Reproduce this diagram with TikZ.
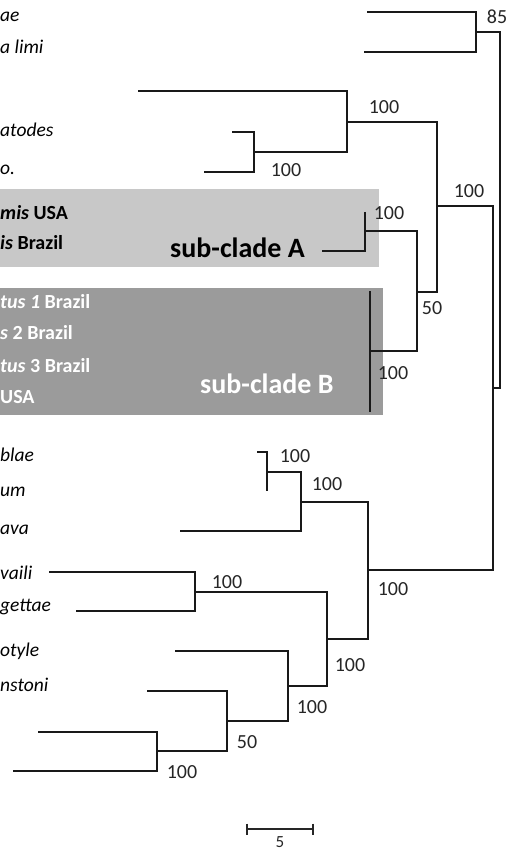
\documentclass[tikz,border=0pt]{standalone}
\usepackage{fontspec}
\setmainfont{Carlito}
\usetikzlibrary{positioning}
\definecolor{cladeA}{HTML}{C8C8C8}
\definecolor{cladeB}{HTML}{9B9B9B}

\begin{document}
\begin{tikzpicture}[x=1pt,y=-1pt,
        branch/.style={line width=1.6pt,color=black!90},
        bs/.style={font=\fontsize{20}{22}\selectfont,text=black!85,inner sep=0pt},
        taxon/.style={font=\fontsize{19.5}{22}\selectfont\itshape,anchor=west,inner sep=0pt},
        taxonw/.style={font=\fontsize{20}{22}\selectfont\bfseries,anchor=west,inner sep=0pt,text=white},
        taxonb/.style={font=\fontsize{20}{22}\selectfont\bfseries,anchor=west,inner sep=0pt},
        subclade/.style={font=\fontsize{28}{30}\selectfont\bfseries,anchor=base west,inner sep=0pt}]
        \clip (0,0) rectangle (508,850);

        % shaded sub-clades
        \fill[cladeA] (0,189) rectangle (379,267);
        \fill[cladeB] (0,288) rectangle (383,415);

        % tips
        \coordinate (t1) at (367,12);
        \coordinate (t2) at (364,52);
        \coordinate (t3) at (138,91);
        \coordinate (t4) at (232,132);
        \coordinate (t5) at (204,172);
        \coordinate (tA1) at (365,212);
        \coordinate (tA2) at (322,251);
        \coordinate (tB1) at (370,291);
        \coordinate (tB2) at (370,412);
        \coordinate (t6) at (257,452);
        \coordinate (t7) at (267,491);
        \coordinate (t8) at (180,531);
        \coordinate (t9) at (49,572);
        \coordinate (t10) at (76,611);
        \coordinate (t11) at (175,651);
        \coordinate (t12) at (147,691);
        \coordinate (t13) at (38,732);
        \coordinate (t14) at (13,771);

        % internal nodes
        \coordinate (root) at (500,210);
        \coordinate (n85) at (476,32);
        \coordinate (nIn) at (493,388);
        \coordinate (n437) at (437,206);
        \coordinate (n347) at (347,122);
        \coordinate (n254) at (254,152);
        \coordinate (n417) at (417,292);
        \coordinate (nA) at (365,231);
        \coordinate (nB) at (370,351);
        \coordinate (n368) at (368,570);
        \coordinate (n301) at (301,502);
        \coordinate (n267) at (267,472);
        \coordinate (n327) at (327,639);
        \coordinate (n195) at (195,592);
        \coordinate (n288) at (288,686);
        \coordinate (n227) at (227,721);
        \coordinate (n157) at (157,751);

        % branches
        \draw[branch] (n85) -| (root) |- (nIn);
        \draw[branch] (t1) -| (n85) |- (t2);
        \draw[branch] (n437) -| (nIn) |- (n368);
        \draw[branch] (n347) -| (n437) |- (n417);
        \draw[branch] (t3) -| (n347) |- (n254);
        \draw[branch] (t4) -| (n254) |- (t5);
        \draw[branch] (nA) -| (n417) |- (nB);
        \draw[branch] (tA1) -| (nA) |- (tA2);
        \draw[branch] (tB1) -- (tB2);
        \draw[branch] (n301) -| (n368) |- (n327);
        \draw[branch] (n267) -| (n301) |- (t8);
        \draw[branch] (t6) -| (n267) |- (t7);
        \draw[branch] (n195) -| (n327) |- (n288);
        \draw[branch] (t9) -| (n195) |- (t10);
        \draw[branch] (t11) -| (n288) |- (n227);
        \draw[branch] (t12) -| (n227) |- (n157);
        \draw[branch] (t13) -| (n157) |- (t14);

        % bootstrap values
        \node[bs] (b85) at (497,17) {85};
        \node[bs] (b347) at (384,107) {100};
        \node[bs] (b254) at (286,170) {100};
        \node[bs] (b437) at (469,191) {100};
        \node[bs] (bA) at (389,213) {100};
        \node[bs] (b417) at (432,308) {50};
        \node[bs] (bB) at (393,373) {100};
        \node[bs] (b267) at (295,456) {100};
        \node[bs] (b301) at (327,484) {100};
        \node[bs] (b368) at (393,589) {100};
        \node[bs] (b195) at (227,582) {100};
        \node[bs] (b327) at (350,665) {100};
        \node[bs] (b288) at (312,707) {100};
        \node[bs] (b227) at (247,742) {50};
        \node[bs] (b157) at (182,772) {100};

        % taxon names
        \node[taxon] (l1) at (0,17) {ae};
        \node[taxon] (l2) at (0,47) {a limi};
        \node[taxon] (l4) at (0,130) {atodes};
        \node[taxon] (l5) at (0,170) {o.};
        \node[taxonb] (lA1) at (0,213) {\textit{mis} USA};
        \node[taxonb] (lA2) at (0,243) {\textit{is} Brazil};
        \node[taxonw] (lB1) at (0,302) {\textit{tus 1} Brazil};
        \node[taxonw] (lB2) at (0,333) {\textit{s} 2 Brazil};
        \node[taxonw] (lB3) at (0,366) {\textit{tus} 3 Brazil};
        \node[taxonw] (lB4) at (0,397) {USA};
        \node[taxon] (l6) at (0,455) {blae};
        \node[taxon] (l7) at (0,492) {um};
        \node[taxon] (l8) at (0,530) {ava};
        \node[taxon] (l9) at (0,573) {vaili};
        \node[taxon] (l10) at (0,607) {gettae};
        \node[taxon] (l11) at (0,651) {otyle};
        \node[taxon] (l12) at (0,685) {nstoni};

        \node[subclade] (subA) at (170,257) {sub-clade A};
        \node[subclade,text=white] (subB) at (200,393) {sub-clade B};

        % scale bar
        \coordinate (sb1) at (247,829);
        \coordinate (sb2) at (313,829);
        \draw[line width=1.4pt,color=black!85] (sb1) -- (sb2);
        \draw[line width=1.4pt,color=black!85] (sb1) ++(0,-5.5) -- ++(0,11);
        \draw[line width=1.4pt,color=black!85] (sb2) ++(0,-5.5) -- ++(0,11);
        \node[font=\fontsize{17}{18}\selectfont,inner sep=0pt,text=black!85] (five) at (280,842) {5};
    \end{tikzpicture}
\end{document}
